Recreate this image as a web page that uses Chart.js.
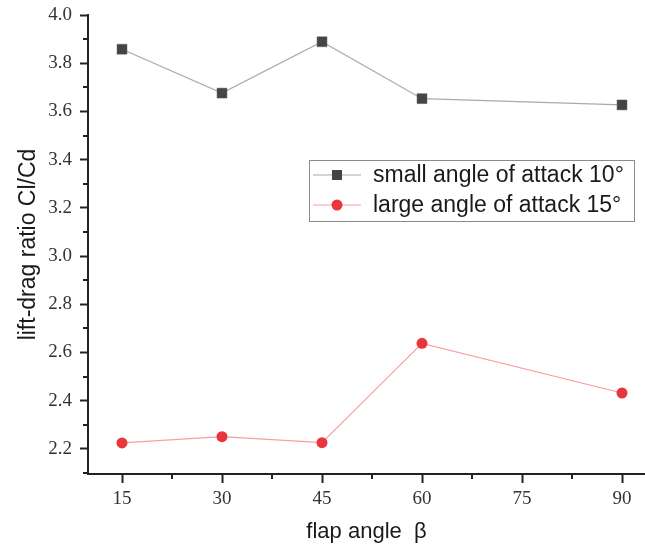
<!DOCTYPE html>
<html>
<head>
<meta charset="utf-8">
<script src="https://cdn.jsdelivr.net/npm/chart.js@4/dist/chart.umd.min.js"></script>
<style>
html,body{margin:0;padding:0;background:#fff;overflow:hidden;}
canvas{display:block;}
</style>
</head>
<body>
<canvas id="c" width="645" height="546"></canvas>
<script>
// ---- data ----
const flapAngles = [15, 30, 45, 60, 90];
const smallAoA = [3.858, 3.676, 3.889, 3.653, 3.627];
const largeAoA = [2.225, 2.251, 2.226, 2.638, 2.432];
const xTickValues = [15, 30, 45, 60, 75, 90];
const yTickValues = [2.2, 2.4, 2.6, 2.8, 3.0, 3.2, 3.4, 3.6, 3.8, 4.0];
const xMinorValues = [22.5, 37.5, 52.5, 67.5, 82.5];
const yMinorValues = [2.1, 2.3, 2.5, 2.7, 2.9, 3.1, 3.3, 3.5, 3.7, 3.9];
const seriesNames = ['small angle of attack 10°', 'large angle of attack 15°'];
const xTitle = 'flap angle  β';
const yTitle = 'lift-drag ratio Cl/Cd';

const toPts = (xs, ys) => xs.map((x, i) => ({x: x, y: ys[i]}));

const minorTicks = {
  id: 'minorTicks',
  afterDraw(chart) {
    const ctx = chart.ctx;
    const xs = chart.scales.x, ys = chart.scales.y;
    const a = chart.chartArea;
    ctx.save();
    ctx.strokeStyle = '#222';
    ctx.lineWidth = 2;
    ctx.beginPath();
    xMinorValues.forEach(v => {
      const px = Math.round(xs.getPixelForValue(v));
      ctx.moveTo(px, a.bottom); ctx.lineTo(px, a.bottom + 5);
    });
    yMinorValues.forEach(v => {
      const py = Math.round(ys.getPixelForValue(v));
      ctx.moveTo(a.left, py); ctx.lineTo(a.left - 5, py);
    });
    ctx.stroke();
    ctx.restore();
  }
};

const boxLegend = {
  id: 'boxLegend',
  afterDraw(chart) {
    const ctx = chart.ctx;
    ctx.save();
    const bx = 309, by = 160, bw = 325, bh = 61;
    ctx.strokeStyle = '#8a8a8a';
    ctx.lineWidth = 1;
    ctx.strokeRect(bx + 0.5, by + 0.5, bw, bh);
    ctx.font = '23px "Liberation Sans", Arial, sans-serif';
    ctx.textBaseline = 'middle';
    ctx.fillStyle = '#1a1a1a';
    const rows = [175, 205];
    chart.data.datasets.forEach((ds, i) => {
      const y = rows[i];
      ctx.strokeStyle = ds.borderColor;
      ctx.lineWidth = 1.2;
      ctx.beginPath(); ctx.moveTo(313, y); ctx.lineTo(361, y); ctx.stroke();
      ctx.fillStyle = ds.pointBackgroundColor;
      if (ds.pointStyle === 'rect') {
        ctx.fillRect(332, y - 5, 10, 10);
      } else {
        ctx.beginPath(); ctx.arc(337, y, 5.5, 0, Math.PI * 2); ctx.fill();
      }
      ctx.fillStyle = '#1a1a1a';
      ctx.fillText(ds.label, 373, y + 1);
    });
    ctx.restore();
  }
};

new Chart(document.getElementById('c'), {
  type: 'line',
  data: {
    datasets: [
      {
        label: seriesNames[0],
        data: toPts(flapAngles, smallAoA),
        borderColor: '#aaaaaa',
        borderWidth: 1.2,
        pointStyle: 'rect',
        pointRadius: 7,
        pointBackgroundColor: '#454545',
        pointBorderColor: '#555555',
        pointBorderWidth: 0.5,
        tension: 0
      },
      {
        label: seriesNames[1],
        data: toPts(flapAngles, largeAoA),
        borderColor: '#f5a0a0',
        borderWidth: 1.2,
        pointStyle: 'circle',
        pointRadius: 5.5,
        pointBackgroundColor: '#e8363c',
        pointBorderColor: '#e8363c',
        pointBorderWidth: 0,
        tension: 0
      }
    ]
  },
  options: {
    responsive: false,
    animation: false,
    layout: {autoPadding: false, padding: {top: 15, right: 0, bottom: 0, left: 0}},
    plugins: {legend: {display: false}, tooltip: {enabled: false}},
    scales: {
      x: {
        type: 'linear',
        min: 9.9,
        max: 93.45,
        afterBuildTicks: s => { s.ticks = xTickValues.map(v => ({value: v})); },
        afterFit: s => { s.height = 72; s.paddingLeft = 0; s.paddingRight = 0; },
        ticks: {
          font: {family: '"Liberation Serif", "Times New Roman", serif', size: 19},
          color: '#333',
          padding: 5,
          maxRotation: 0,
          callback: v => String(v)
        },
        grid: {display: true, drawOnChartArea: false, drawTicks: true, tickLength: 9, tickColor: '#222', tickWidth: 2},
        border: {display: true, color: '#222', width: 2},
        title: {display: true, text: xTitle, font: {family: '"Liberation Sans", Arial, sans-serif', size: 22}, color: '#1a1a1a', padding: {top: 0, bottom: 1}}
      },
      y: {
        type: 'linear',
        min: 2.096,
        max: 4.0,
        afterBuildTicks: s => { s.ticks = yTickValues.map(v => ({value: v})); },
        afterFit: s => { s.width = 88; s.paddingTop = 0; s.paddingBottom = 0; },
        ticks: {
          font: {family: '"Liberation Serif", "Times New Roman", serif', size: 19},
          color: '#333',
          padding: 8,
          callback: v => Number(v).toFixed(1)
        },
        grid: {display: true, drawOnChartArea: false, drawTicks: true, tickLength: 8, tickColor: '#222', tickWidth: 2},
        border: {display: true, color: '#222', width: 2},
        title: {display: true, text: yTitle, font: {family: '"Liberation Sans", Arial, sans-serif', size: 23}, color: '#1a1a1a', padding: {top: 15, bottom: 0}}
      }
    }
  },
  plugins: [minorTicks, boxLegend]
});
</script>
</body>
</html>
